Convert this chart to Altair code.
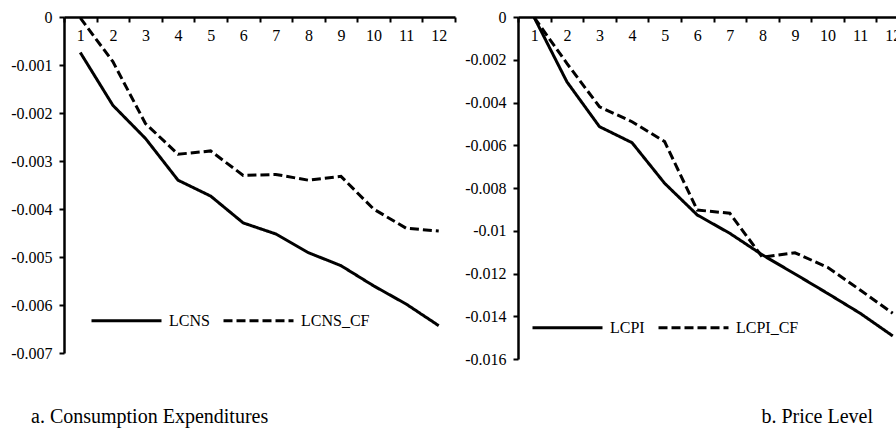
import altair as alt
import pandas as pd

periods = list(range(1, 13))

lcns = [-0.00074, -0.00184, -0.00253, -0.00340, -0.00373, -0.00429,
        -0.00452, -0.00491, -0.00518, -0.00560, -0.00598, -0.00643]
lcns_cf = [-0.00002, -0.00093, -0.00222, -0.00286, -0.00279, -0.00330,
           -0.00328, -0.00340, -0.00332, -0.00400, -0.00440, -0.00446]
lcpi = [-0.00003, -0.00303, -0.00513, -0.00588, -0.00778, -0.00926,
        -0.01012, -0.01113, -0.01202, -0.01293, -0.01386, -0.01492]
lcpi_cf = [-0.00003, -0.00217, -0.00420, -0.00490, -0.00583, -0.00903,
           -0.00918, -0.01124, -0.01103, -0.01171, -0.01277, -0.01386]

left_series = ["LCNS", "LCNS_CF"]
right_series = ["LCPI", "LCPI_CF"]
left_ticks = [0, -0.001, -0.002, -0.003, -0.004, -0.005, -0.006, -0.007]
right_ticks = [0, -0.002, -0.004, -0.006, -0.008, -0.01, -0.012, -0.014, -0.016]
captions = ["a. Consumption Expenditures", "b. Price Level"]

FONT = "Liberation Serif"

df_left = pd.DataFrame({
    "period": periods * 2,
    "value": lcns + lcns_cf,
    "series": [left_series[0]] * 12 + [left_series[1]] * 12,
})
df_right = pd.DataFrame({
    "period": periods * 2,
    "value": lcpi + lcpi_cf,
    "series": [right_series[0]] * 12 + [right_series[1]] * 12,
})

DASHES = [[1, 0], [9, 4]]


def x_axis():
    return alt.Axis(orient="bottom", offset=-336, title=None, labelAngle=0,
                    tickBand="extent", tickSize=5, tickWidth=2, tickColor="black",
                    domainColor="black", domainWidth=2.5, labelPadding=5,
                    labelFontSize=16, labelColor="black",
                    grid=False)


def y_axis(values, offset):
    return alt.Axis(orient="left", offset=offset, title=None, values=values,
                    labelExpr="'' + datum.value", tickSize=5, tickWidth=2,
                    tickColor="black", domainColor="black", domainWidth=2.5,
                    labelPadding=7, labelFontSize=16,
                    labelColor="black", grid=False)


def legend(x, y):
    return alt.Legend(orient="none", legendX=x, legendY=y, direction="horizontal",
                      title=None, symbolType="stroke", symbolSize=4900,
                      symbolStrokeWidth=3, symbolStrokeColor="black",
                      labelFontSize=16, labelColor="black", gridAlign="each",
                      labelOffset=6, columnPadding=7)


left_lines = alt.Chart(df_left).mark_line(color="black", strokeWidth=3, strokeCap="butt").encode(
    x=alt.X("period:O", scale=alt.Scale(type="band", paddingInner=0, paddingOuter=0, range=[0, 391]),
            axis=x_axis()),
    y=alt.Y("value:Q", scale=alt.Scale(domain=[-0.007, 0], nice=False, zero=False),
            axis=y_axis(left_ticks, 0)),
    strokeDash=alt.StrokeDash("series:N", scale=alt.Scale(domain=left_series, range=DASHES),
                              legend=legend(26, 267)),
)
left_caption = alt.Chart(pd.DataFrame({"t": [captions[0]]})).mark_text(
    fontSize=20, align="left", baseline="alphabetic", color="black"
).encode(text="t:N", x=alt.value(-33), y=alt.value(406))

right_lines = alt.Chart(df_right).mark_line(color="black", strokeWidth=3, strokeCap="butt").encode(
    x=alt.X("period:O", scale=alt.Scale(type="band", paddingInner=0, paddingOuter=0, range=[454, 845]),
            axis=x_axis()),
    y=alt.Y("value:Q", scale=alt.Scale(domain=[-0.016, 0], nice=False, zero=False, range=[342, 0]),
            axis=y_axis(right_ticks, -454)),
    strokeDash=alt.StrokeDash("series:N", scale=alt.Scale(domain=right_series, range=DASHES),
                              legend=legend(467, 274)),
)
right_caption = alt.Chart(pd.DataFrame({"t": [captions[1]]})).mark_text(
    fontSize=20, align="right", baseline="alphabetic", color="black"
).encode(text="t:N", x=alt.value(809), y=alt.value(406))

left = alt.layer(left_lines, left_caption)
right = alt.layer(right_lines, right_caption)

chart = alt.layer(left, right).resolve_scale(
    x="independent", y="independent", strokeDash="independent"
).properties(
    width=832, height=336,
    autosize=alt.AutoSizeParams(type="none"),
    padding={"left": 64, "top": 17, "right": 0, "bottom": 79},
    background="white",
).configure(
    font=FONT,
).configure_axis(
    labelFont=FONT,
).configure_legend(
    labelFont=FONT,
).configure_text(
    font=FONT,
).configure_view(stroke=None)

chart.save("out.html", embed_options={"renderer": "svg", "actions": False})
